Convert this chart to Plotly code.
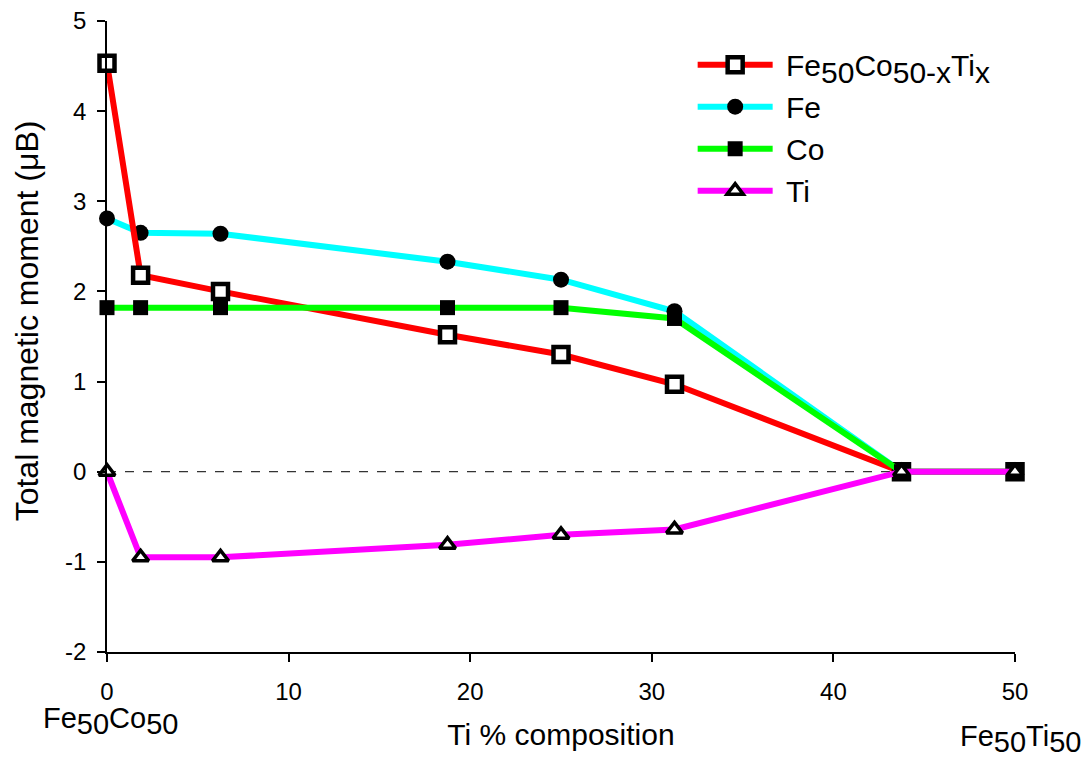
import plotly.graph_objects as go

ti_pct = [0, 1.85, 6.25, 18.75, 25, 31.25, 43.75, 50]
total = [4.53, 2.18, 2.0, 1.52, 1.30, 0.97, 0.0, 0.0]
fe = [2.81, 2.65, 2.64, 2.33, 2.13, 1.78, 0.0, 0.0]
co = [1.82, 1.82, 1.82, 1.82, 1.82, 1.70, 0.0, 0.0]
ti = [0.0, -0.95, -0.95, -0.81, -0.70, -0.64, 0.0, 0.0]

x_ticks = [0, 10, 20, 30, 40, 50]
y_ticks = [-2, -1, 0, 1, 2, 3, 4, 5]
y_ticktext = ["-2", "-1", "0", "1", "2", "3", "4", "5"]

FONT = "Liberation Sans, Arial, sans-serif"
NB = "\u00a0"


def sub(t, size):
    return f"<sub><span style='font-size:{size}px'>{t}</span></sub>"


fig = go.Figure()

fig.add_hline(y=0, line=dict(color="black", width=1, dash="dash"), layer="below")


def add(name, y, color, symbol, fill, lw, rank, size=15):
    fig.add_trace(go.Scatter(
        x=ti_pct, y=y, name=NB + name, mode="lines+markers",
        line=dict(color=color, width=6),
        marker=dict(symbol=symbol, size=size, color=fill,
                    line=dict(color="black", width=lw)),
        legendgroup=name, legendrank=rank, cliponaxis=False,
    ))


LEG = 30
add("Fe", fe, "#00FFFF", "circle", "black", 0, 2, 16)
add("Fe" + sub("50", LEG) + "Co" + sub("50-x", LEG) + "Ti" + sub("x", LEG),
    total, "#FF0000", "square", "white", 4.5, 1, 15)
add("Co", co, "#00FF00", "square", "black", 0, 3, 15)
add("Ti", ti, "#FF00FF", "triangle-up", "white", 3.5, 4, 14)

fig.update_layout(
    width=1091, height=758,
    margin=dict(l=99, r=84, t=13, b=114),
    paper_bgcolor="white", plot_bgcolor="white",
    font=dict(family=FONT, size=22, color="black"),
    showlegend=True,
    legend=dict(x=0.645, y=0.972, xanchor="left", yanchor="top",
                font=dict(family=FONT, size=LEG, color="black"),
                bgcolor="rgba(0,0,0,0)", itemwidth=75, tracegroupgap=0,
                itemsizing="trace"),
    xaxis=dict(range=[0, 50], tickvals=x_ticks, showgrid=False, zeroline=False,
               showline=True, linecolor="black", linewidth=1.5,
               ticks="outside", ticklen=8, tickwidth=1.5, tickcolor="black",
               tickfont=dict(size=24), ticklabelstandoff=9,
               ticklabeloverflow="allow", automargin=False,
               title=dict(text="Ti % composition", font=dict(size=30), standoff=20)),
    yaxis=dict(range=[-2, 5], tickvals=y_ticks, ticktext=y_ticktext,
               showgrid=False, zeroline=False,
               showline=True, linecolor="black", linewidth=1.5,
               ticks="outside", ticklen=8, tickwidth=1.5, tickcolor="black",
               tickfont=dict(size=24), ticklabelstandoff=6,
               ticklabeloverflow="allow", automargin=False),
)

fig.add_annotation(x=0, y=0.524, xref="paper", yref="paper", xshift=-80,
                   text="Total magnetic moment (μB)", textangle=-90, showarrow=False,
                   font=dict(size=32), xanchor="center", yanchor="middle")

ANN = 29
fig.add_annotation(x=0, y=0, xref="x", yref="paper", yshift=-48, xshift=3,
                   text="Fe" + sub("50", ANN) + "Co" + sub("50", ANN), showarrow=False,
                   font=dict(size=ANN), xanchor="center", yanchor="top")
fig.add_annotation(x=50, y=0, xref="x", yref="paper", yshift=-66, xshift=5,
                   text="Fe" + sub("50", ANN) + "Ti" + sub("50", ANN), showarrow=False,
                   font=dict(size=ANN), xanchor="center", yanchor="top")

fig.write_html("out.html")
